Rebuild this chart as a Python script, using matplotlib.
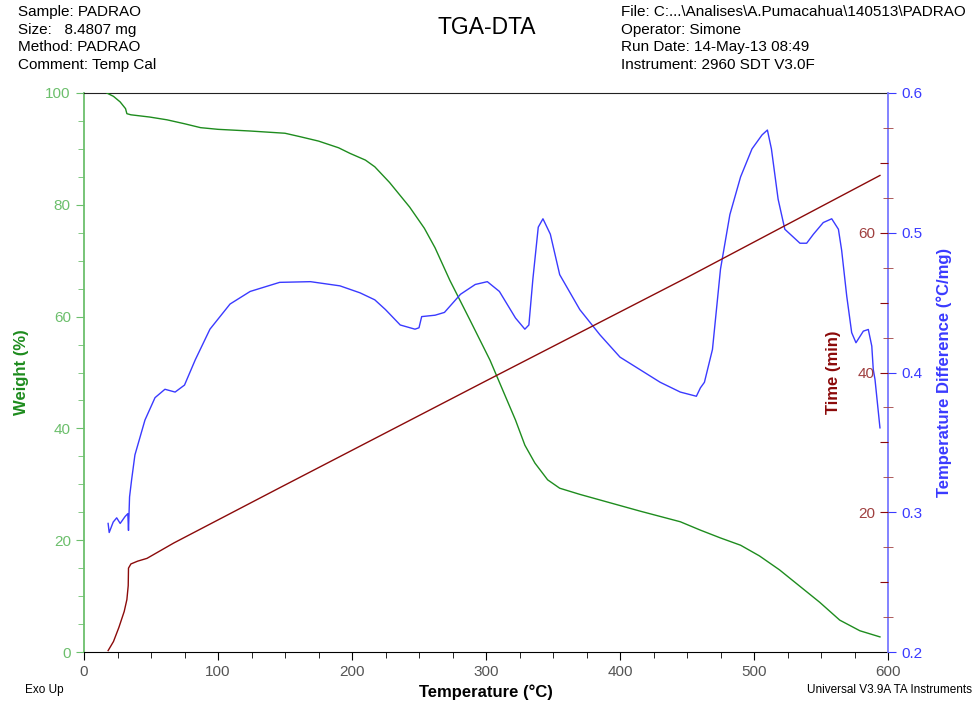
import matplotlib
matplotlib.use("Agg")
import matplotlib.pyplot as plt
from matplotlib.ticker import MultipleLocator, FixedLocator, FuncFormatter
import numpy as np

plt.rcParams['font.family'] = ['Liberation Sans', 'DejaVu Sans']

# Weight loss (TGA)
tga_temp = [17, 22, 27, 31, 32, 35, 49, 62, 75, 87, 100, 124, 150, 161, 175, 190, 198.5,
            210, 217, 228, 243, 254, 262, 273, 288, 303, 314, 322, 329, 336.5, 346, 355,
            370, 385, 415, 445, 460, 475, 490, 504, 519, 534, 549, 564, 579, 594]
tga_weight = [100, 99.4, 98.4, 97.2, 96.3, 96.1, 95.7, 95.2, 94.5, 93.8, 93.5, 93.2, 92.8, 92.2,
              91.4, 90.2, 89.2, 88.0, 86.8, 84.0, 79.6, 75.8, 72.3, 66.5, 59.4, 52.2, 46.0,
              41.5, 37.0, 33.8, 30.8, 29.3, 28.2, 27.2, 25.2, 23.3, 21.8, 20.4, 19.1, 17.2,
              14.7, 11.8, 8.9, 5.7, 3.8, 2.7]

# Heat flow (DTA)
dta_temp = [18, 18.8, 21.8, 24.4, 27, 30.7, 32.7, 33.2, 34, 35.5, 38, 45.5, 53, 60.4, 68, 75,
            83, 94, 109, 124, 146, 169, 191, 206, 217, 225, 236, 247, 250, 252, 262, 269,
            281, 292, 301, 310, 322, 329, 332, 335, 339, 342.5, 348, 355, 370, 385, 400,
            415, 430, 445, 457, 460, 463, 469, 475, 482, 490, 498.5, 506, 510, 513, 518,
            523, 534.3, 539.3, 544.3, 551.7, 558, 563, 565.4, 569.2, 572.9, 576.1, 581.6,
            585.3, 587.9, 589, 590.3, 594]
dta_diff = [0.292, 0.2855, 0.293, 0.296, 0.292, 0.297, 0.299, 0.287, 0.311, 0.323, 0.341,
            0.366, 0.382, 0.388, 0.386, 0.391, 0.409, 0.431, 0.449, 0.458, 0.4645, 0.465,
            0.462, 0.457, 0.452, 0.445, 0.434, 0.431, 0.432, 0.440, 0.441, 0.443, 0.456,
            0.463, 0.465, 0.458, 0.439, 0.431, 0.434, 0.467, 0.504, 0.510, 0.499, 0.470,
            0.445, 0.427, 0.411, 0.402, 0.393, 0.386, 0.383, 0.389, 0.393, 0.4165, 0.474,
            0.513, 0.540, 0.560, 0.570, 0.5735, 0.560, 0.524, 0.5025, 0.4925, 0.4925,
            0.4989, 0.5073, 0.510, 0.5025, 0.4875, 0.4547, 0.4285, 0.4213, 0.4296, 0.4308,
            0.4189, 0.4022, 0.395, 0.3604]

# Elapsed time
time_temp = [18, 22, 26, 30, 32, 33, 33.2, 35, 40, 47, 67, 84, 146, 300, 450, 594]
time_min = [0.2, 1.5, 3.5, 5.8, 7.5, 9.5, 12.0, 12.6, 13.0, 13.4, 15.6, 17.3, 23.5, 38.8, 53.6, 68.2]

header_left = ["Sample: PADRAO", "Size:   8.4807 mg", "Method: PADRAO", "Comment: Temp Cal"]
header_right = ["File: C:...\\Analises\\A.Pumacahua\\140513\\PADRAO", "Operator: Simone",
                "Run Date: 14-May-13 08:49", "Instrument: 2960 SDT V3.0F"]

GREEN = "#1e8c1e"
GREEN_LIGHT = "#6cbf6c"
BLUE = "#3a3aff"
BLUE_LIGHT = "#7878ff"
RED = "#8b0a0a"
RED_TICK = "#a04040"
GRAY = "#555555"

fig = plt.figure(figsize=(9.74, 7.04), dpi=100)
ax = fig.add_axes([84 / 974, 1 - 652 / 704, (888 - 84) / 974, (652 - 93) / 704])

ax.plot(tga_temp, tga_weight, color=GREEN, lw=1.0, zorder=3)
ax.set_xlim(0, 600)
ax.set_ylim(0, 100)

ax.xaxis.set_major_locator(MultipleLocator(100))
ax.xaxis.set_minor_locator(MultipleLocator(25))
ax.yaxis.set_major_locator(MultipleLocator(20))
ax.yaxis.set_minor_locator(MultipleLocator(5))
ax.tick_params(axis='x', which='both', direction='out', color='black', labelcolor=GRAY,
               labelsize=11)
ax.tick_params(axis='x', which='major', length=6)
ax.tick_params(axis='x', which='minor', length=4)
ax.tick_params(axis='y', which='both', direction='out', color=GREEN_LIGHT,
               labelcolor=GREEN_LIGHT, labelsize=11)
ax.tick_params(axis='y', which='major', length=6)
ax.tick_params(axis='y', which='minor', length=4)
ax.spines['left'].set_color(GREEN_LIGHT)
ax.spines['left'].set_linewidth(1.3)
ax.spines['top'].set_color('#222222')
ax.spines['bottom'].set_color('black')
ax.spines['right'].set_visible(False)
ax.set_xlabel("Temperature (°C)", fontsize=12, fontweight='bold', labelpad=4)
ax.set_ylabel("Weight (%)", fontsize=12, fontweight='bold', color=GREEN, labelpad=12)

# Temperature difference axis
ax2 = ax.twinx()
ax2.plot(dta_temp, dta_diff, color=BLUE, lw=1.0, zorder=3)
ax2.set_ylim(0.2, 0.6)
ax2.yaxis.set_major_locator(MultipleLocator(0.1))
ax2.yaxis.set_major_formatter(FuncFormatter(lambda v, p: f"{v:.1f}"))
ax2.tick_params(axis='y', which='major', direction='out', length=6, color=BLUE,
                labelcolor=BLUE, labelsize=11)
for s in ['left', 'top', 'bottom']:
    ax2.spines[s].set_visible(False)
ax2.spines['right'].set_color(BLUE_LIGHT)
ax2.spines['right'].set_linewidth(1.3)
ax2.set_ylabel("Temperature Difference (°C/mg)", fontsize=12, fontweight='bold',
               color=BLUE, labelpad=10)

# Time axis, drawn on the inner side of the right spine
ax3 = ax.twinx()
ax3.plot(time_temp, time_min, color=RED, lw=1.0, zorder=3)
ax3.set_ylim(0, 80)
for s in ['right', 'top', 'bottom']:
    ax3.spines[s].set_visible(False)
ax3.spines['left'].set_position(('axes', 1.0))
ax3.spines['left'].set_visible(False)
ax3.yaxis.set_ticks_position('left')
ax3.yaxis.set_label_position('left')
ax3.yaxis.set_major_locator(FixedLocator([10, 20, 30, 40, 50, 60, 70]))
ax3.yaxis.set_minor_locator(FixedLocator([5, 15, 25, 35, 45, 55, 65, 75]))
ax3.yaxis.set_major_formatter(FuncFormatter(lambda v, p: f"{v:.0f}" if v % 20 == 0 else ""))
ax3.tick_params(axis='y', which='major', direction='out', length=6, color=RED,
                labelcolor=RED_TICK, labelsize=11)
ax3.tick_params(axis='y', which='minor', direction='inout', length=7, color=RED_TICK)
ax3.set_ylabel("Time (min)", fontsize=12, fontweight='bold', color=RED, labelpad=12)

for a in (ax, ax2, ax3):
    a.set_xlim(0, 600)

fig.text(487 / 974, 1 - 28 / 704, "TGA-DTA", ha='center', va='center', fontsize=16.5)

y0 = 12
for i, line in enumerate(header_left):
    fig.text(18 / 974, 1 - (y0 + i * 17.6) / 704, line, ha='left', va='center', fontsize=11)
for i, line in enumerate(header_right):
    fig.text(621 / 974, 1 - (y0 + i * 17.6) / 704, line, ha='left', va='center', fontsize=11)

fig.text(25 / 974, 1 - 690 / 704, "Exo Up", ha='left', va='center', fontsize=8.5)
fig.text(972 / 974, 1 - 690 / 704, "Universal V3.9A TA Instruments", ha='right',
         va='center', fontsize=8.5)

fig.savefig("out.png", dpi=100)
